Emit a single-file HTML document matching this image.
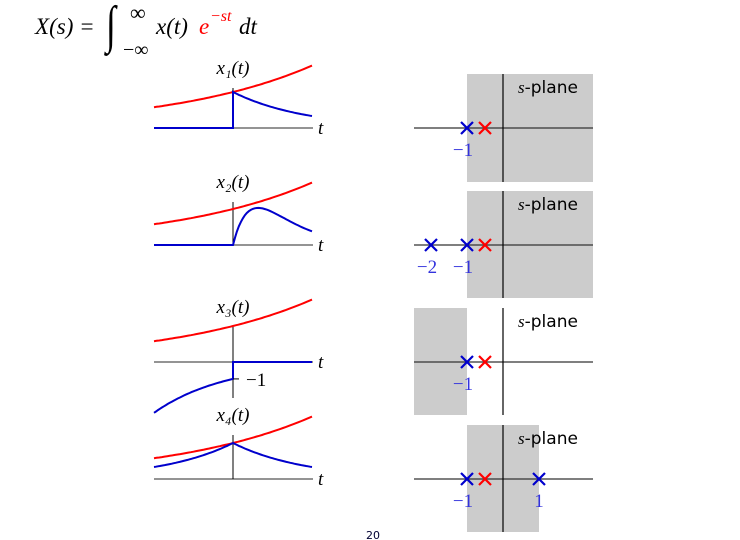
<!DOCTYPE html>
<html><head><meta charset="utf-8"><style>
html,body{margin:0;padding:0;background:#fff;width:740px;height:540px;overflow:hidden}
svg{display:block}
.m{font-family:"Liberation Serif",serif;font-style:italic}
.n{font-family:"Liberation Serif",serif}
.s{font-family:"DejaVu Sans","Liberation Sans",sans-serif}
</style></head><body>
<svg id="c" width="740" height="540">
<g>
<text x="35" y="34" font-size="23" class="m">X<tspan class="n">(</tspan>s<tspan class="n">) =</tspan></text>
<text x="0" y="0" font-size="36" class="n" transform="translate(106,42) scale(1,1.45)">∫</text>
<text x="130" y="20" font-size="22" class="n">∞</text>
<text x="123" y="56" font-size="20" class="n">−∞</text>
<text x="156" y="34" font-size="23" class="m">x<tspan class="n">(</tspan>t<tspan class="n">)</tspan></text>
<text x="199" y="34" font-size="23" class="m" fill="#ff0000">e</text>
<text x="210" y="21" font-size="16" class="m" fill="#ff0000"><tspan class="n">−</tspan>st</text>
<text x="239" y="34" font-size="23" class="m">dt</text>
</g>
<text x="366" y="539" font-size="11" class="s" fill="#003">20</text>
</svg>
<script>
// time-domain parameters (t range in "units")
const tRange = [-1.1, 1.1];
const redRate = [0.5, 0.5, 0.5, 0.5];
const blueAmp = [1, 1.03, 0.47, 1];
const blueKind = ["rightExp", "rightAlpha", "leftExpNeg", "twoSided"];
const labels = ["x₁(t)", "x₂(t)", "x₃(t)", "x₄(t)"];
// s-plane data
const polesBlue = [[-1], [-2, -1], [-1], [-1, 1]];
const poleRed = [-0.5, -0.5, -0.5, -0.5];
const rocLeft = [-1, -1, -3, -1];
const rocRight = [3, 3, -1, 1];

const svg = document.getElementById('c');
const NS = 'http://www.w3.org/2000/svg';
function mk(tag, attrs, parent) {
  const e = document.createElementNS(NS, tag);
  for (const k in attrs) e.setAttribute(k, attrs[k]);
  (parent || svg).appendChild(e);
  return e;
}
const axisY = [128, 245, 362, 479];
const vTop = [88, 202, 327, 435];
const vBot = [128, 245, 398, 479];
const boxTop = [74, 191, 308, 425];
const boxBot = [182, 298, 415, 532];
const x0 = 233, xL = 154, xR = 313, ampPx = 36;
const tx = t => x0 + t / tRange[1] * 79;
const sx = s => 503 + s * 36;
function blueVal(kind, t, a) {
  if (kind === 'rightExp') return t < 0 ? 0 : a * Math.exp(-t);
  if (kind === 'rightAlpha') return t < 0 ? 0 : a * (t / 0.35) * Math.exp(1 - t / 0.35);
  if (kind === 'leftExpNeg') return t < 0 ? -a * Math.exp(-t) : 0;
  return a * Math.exp(-Math.abs(t));
}
for (let i = 0; i < 4; i++) {
  const g = mk('g', {});
  
  
  const ay = axisY[i];
  const ta = mk('line', {x1: xL, y1: ay, x2: xR, y2: ay, stroke: '#555', 'stroke-width': 1.2}, g);
  
  
  const va = mk('line', {x1: x0, y1: vTop[i], x2: x0, y2: vBot[i], stroke: '#000', 'stroke-width': 1}, g);
  
  
  const tl = mk('text', {x: 318, y: ay + 6, 'font-size': 19, class: 'm'}, g);
  tl.textContent = 't';
  
  
  const lb = mk('text', {x: x0, y: vTop[i] - 14, 'font-size': 19, class: 'm', 'text-anchor': 'middle'}, g);
  lb.textContent = labels[i];
  
  
  let d = '';
  for (let k = 0; k <= 60; k++) {
    const t = tRange[0] + (tRange[1] - tRange[0]) * k / 60;
    d += (k ? 'L' : 'M') + tx(t).toFixed(1) + ',' + (ay - ampPx * Math.exp(redRate[i] * t)).toFixed(1);
  }
  const rp = mk('path', {d: d, fill: 'none', stroke: '#ff0000', 'stroke-width': 2}, g);
  
  
  d = '';
  const pts = [];
  for (let k = 0; k <= 80; k++) pts.push(tRange[0] + (tRange[1] - tRange[0]) * k / 80);
  pts.splice(40, 1, -1e-9, 0);
  pts.forEach((t, k) => {
    d += (k ? 'L' : 'M') + tx(t).toFixed(1) + ',' + (ay - ampPx * blueVal(blueKind[i], t, blueAmp[i])).toFixed(1);
  });
  const bp = mk('path', {d: d, fill: 'none', stroke: '#0000cc', 'stroke-width': 2}, g);
  
  
  if (blueKind[i] === 'leftExpNeg') {
    const yy = ay + ampPx * blueAmp[i];
    mk('line', {x1: x0, y1: yy, x2: x0 + 6, y2: yy, stroke: '#000', 'stroke-width': 1}, g);
    const ml = mk('text', {x: x0 + 13, y: yy + 7, 'font-size': 19, class: 'n'}, g);
    ml.textContent = '−1';
    
    
  }
  const p = mk('g', {});
  
  
  const l = Math.max(sx(rocLeft[i]), 414), r = Math.min(sx(rocRight[i]), 593);
  const roc = mk('rect', {x: l, y: boxTop[i], width: r - l, height: boxBot[i] - boxTop[i], fill: '#cccccc'}, p);
  
  
  mk('line', {x1: 414, y1: ay, x2: 593, y2: ay, stroke: '#333', 'stroke-width': 1.2}, p);
  mk('line', {x1: 503, y1: boxTop[i], x2: 503, y2: boxBot[i], stroke: '#000', 'stroke-width': 1.2}, p);
  const st = mk('text', {x: 518, y: boxTop[i] + 19, 'font-size': 17, class: 's'}, p);
  st.innerHTML = '<tspan font-family="Liberation Serif" font-style="italic">s</tspan>-plane';
  
  
  const cross = (x, col, nm) => {
    const c = mk('path', {d: `M${x-6},${ay-6}L${x+6},${ay+6}M${x-6},${ay+6}L${x+6},${ay-6}`, stroke: col, 'stroke-width': 2.2, fill: 'none'}, p);
    
    
  };
  polesBlue[i].forEach(v => {
    cross(sx(v), '#0000cc', 'pole');
    const t = mk('text', {x: sx(v) + (v < 0 ? -4 : 0), y: ay + 28, 'font-size': 19, class: 'n', fill: '#3333dd', 'text-anchor': 'middle'}, p);
    t.textContent = v < 0 ? '−' + (-v) : String(v);
    
    
  });
  cross(sx(poleRed[i]), '#ff0000', 'weight-exponent-marker');
}
</script>
</body></html>
